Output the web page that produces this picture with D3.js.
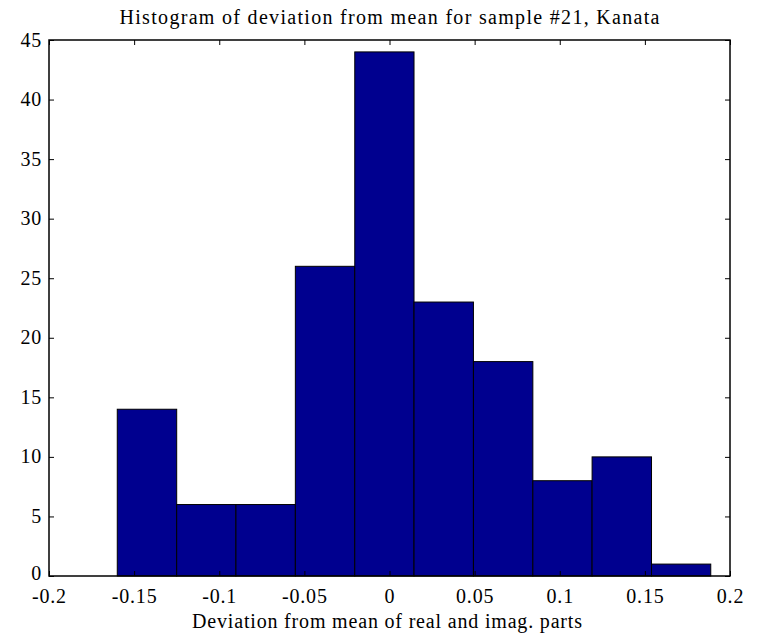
<!DOCTYPE html>
<html>
<head>
<meta charset="utf-8">
<script src="https://cdn.jsdelivr.net/npm/d3@7"></script>
<style>
  body { margin: 0; background: #fff; }
  svg { display: block; }
  text { font-family: "Liberation Serif", "Times New Roman", serif; fill: #000; }
</style>
</head>
<body>
<svg id="chart" width="759" height="635"></svg>
<script>
const binEdges = [-0.1599, -0.1250, -0.0902, -0.0553, -0.0204, 0.0144, 0.0493, 0.0842, 0.1190, 0.1539, 0.1887];
const counts = [14, 6, 6, 26, 44, 23, 18, 8, 10, 1];
const xTicks = [-0.2, -0.15, -0.1, -0.05, 0, 0.05, 0.1, 0.15, 0.2];
const yTicks = [0, 5, 10, 15, 20, 25, 30, 35, 40, 45];
const titleText = "Histogram of deviation from mean for sample #21, Kanata";
const xLabelText = "Deviation from mean of real and imag. parts";

const FONT = '"Liberation Serif", "Times New Roman", serif';
const svg = d3.select("#chart");
const L = 49, R = 730, T = 40, B = 576;
const x = d3.scaleLinear().domain([-0.2, 0.2]).range([L, R]);
const y = d3.scaleLinear().domain([0, 45]).range([B, T]);

const bins = counts.map((c, i) => ({ x0: binEdges[i], x1: binEdges[i + 1], c }));

svg.append("g").selectAll("rect").data(bins).join("rect")
  .attr("x", d => x(d.x0))
  .attr("y", d => y(d.c))
  .attr("width", d => x(d.x1) - x(d.x0))
  .attr("height", d => y(0) - y(d.c))
  .attr("fill", "#00008f")
  .attr("stroke", "#000")
  .attr("stroke-width", 1);

const tickLen = 5;

const xb = svg.append("g").attr("transform", `translate(0,${B})`)
  .call(d3.axisBottom(x).tickValues(xTicks).tickSize(-tickLen).tickFormat(d => String(d)));
const xt = svg.append("g").attr("transform", `translate(0,${T})`)
  .call(d3.axisTop(x).tickValues(xTicks).tickSize(-tickLen).tickFormat(""));
const yl = svg.append("g").attr("transform", `translate(${L},0)`)
  .call(d3.axisLeft(y).tickValues(yTicks).tickSize(-tickLen).tickPadding(7).tickFormat(d => String(d)));
const yr = svg.append("g").attr("transform", `translate(${R},0)`)
  .call(d3.axisRight(y).tickValues(yTicks).tickSize(-tickLen).tickFormat(""));

[xb, xt, yl, yr].forEach(g => {
  g.attr("font-family", FONT).attr("font-size", 20);
  g.select(".domain").remove();
  g.selectAll(".tick line").attr("stroke", "#000");
  g.selectAll("text").attr("fill", "#000").attr("font-family", FONT).attr("font-size", 20)
    .attr("letter-spacing", 0.8);
});
xb.selectAll("text").attr("y", 0).attr("dy", 0).attr("transform", "translate(0,27)");
yl.selectAll("text").attr("dy", "0.3em");
yl.selectAll(".tick").filter(d => d === 0).select("text").attr("dy", "0.15em");

svg.append("rect").attr("x", L).attr("y", T).attr("width", R - L).attr("height", B - T)
  .attr("fill", "none").attr("stroke", "#000").attr("stroke-width", 1.5);

svg.append("text").attr("x", (L + R) / 2).attr("y", 24)
  .attr("text-anchor", "middle").attr("font-family", FONT).attr("font-size", 20)
  .attr("textLength", 540).attr("lengthAdjust", "spacing").text(titleText);

svg.append("text").attr("x", 387).attr("y", 628)
  .attr("text-anchor", "middle").attr("font-family", FONT).attr("font-size", 20)
  .attr("textLength", 390).attr("lengthAdjust", "spacing").text(xLabelText);
</script>
</body>
</html>
